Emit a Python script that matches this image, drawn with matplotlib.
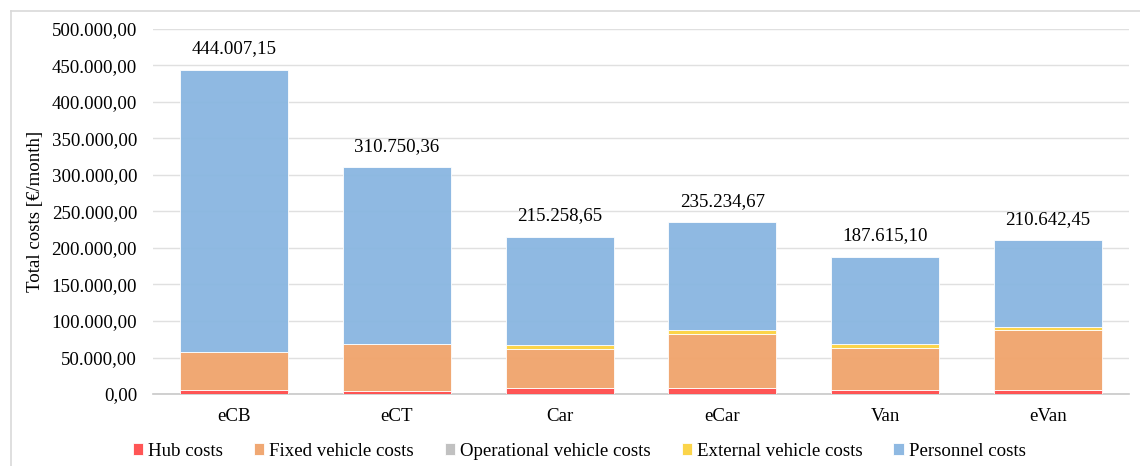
import matplotlib
matplotlib.use("Agg")
import matplotlib.pyplot as plt
from matplotlib.ticker import FuncFormatter
from matplotlib.lines import Line2D
import numpy as np

# Monthly cost breakdown per vehicle concept (EUR/month)
categories = ["eCB", "eCT", "Car", "eCar", "Van", "eVan"]
totals = [444007.15, 310750.36, 215258.65, 235234.67, 187615.10, 210642.45]
hub_costs = [6000, 4500, 8000, 8000, 5500, 5500]
fixed_vehicle_costs = [51500, 64000, 53000, 74000, 58000, 82000]
operational_vehicle_costs = [0, 0, 0, 0, 0, 0]
external_vehicle_costs = [0, 0, 5500, 5500, 4500, 3700]
personnel_costs = [t - h - f - o - e for t, h, f, o, e in zip(
    totals, hub_costs, fixed_vehicle_costs, operational_vehicle_costs, external_vehicle_costs)]

series = [
    ("Hub costs", hub_costs, "#FF4F4F"),
    ("Fixed vehicle costs", fixed_vehicle_costs, "#F0A56E"),
    ("Operational vehicle costs", operational_vehicle_costs, "#BFBFBF"),
    ("External vehicle costs", external_vehicle_costs, "#FBD344"),
    ("Personnel costs", personnel_costs, "#8BB7E1"),
]

FS = 13.6
plt.rcParams["font.family"] = ["Liberation Serif", "DejaVu Serif"]

fig = plt.figure(figsize=(11.4, 4.66), dpi=100)
ax = fig.add_axes([0.1342, 0.1545, 0.8562, 0.7833])

# light frame around the chart area (top and left edges visible)
fig.add_artist(Line2D([0.0097, 1.0], [0.976, 0.976], transform=fig.transFigure,
                      color="#D9D9D9", lw=1.2))
fig.add_artist(Line2D([0.0097, 0.0097], [0.0, 0.976], transform=fig.transFigure,
                      color="#D9D9D9", lw=1.2))

x = np.arange(len(categories))
width = 0.664
bottom = np.zeros(len(categories))
handles = []
for name, vals, color in series:
    vals = np.asarray(vals, dtype=float)
    b = ax.bar(x, vals, width, bottom=bottom, color=color, edgecolor="#FFFFFF",
               linewidth=0.6, alpha=0.97, label=name, zorder=3)
    bottom += vals
    handles.append(b)


def de_format(v):
    return f"{v:,.2f}".replace(",", "X").replace(".", ",").replace("X", ".")


for xi, t in zip(x, totals):
    ax.annotate(de_format(t), (xi, t), xytext=(0, 9), textcoords="offset points",
                ha="center", va="bottom", fontsize=FS, color="#000000")

ax.set_ylim(0, 500000)
ax.set_xlim(-0.5, len(categories) - 0.5)
ax.set_yticks(np.arange(0, 500001, 50000))
ax.yaxis.set_major_formatter(FuncFormatter(lambda v, pos: de_format(v)))
ax.set_xticks(x)
ax.set_xticklabels(categories)
ax.tick_params(axis="both", length=0, labelsize=FS, colors="#000000")
ax.tick_params(axis="y", pad=11.5)
ax.tick_params(axis="x", pad=10)
ax.grid(axis="y", color="#E0E0E0", linewidth=1.0, zorder=0)
for side in ["top", "right", "left"]:
    ax.spines[side].set_visible(False)
ax.spines["bottom"].set_color("#C8C8C8")
ax.spines["bottom"].set_linewidth(1.2)

ax.set_ylabel("Total costs [€/month]", fontsize=FS)
ax.yaxis.set_label_coords(-0.112, 0.5)

fig.legend(handles=handles, labels=[s[0] for s in series], loc="center",
           bbox_to_anchor=(0.508, 0.032), ncol=5, frameon=False, fontsize=FS,
           handlelength=0.55, handleheight=0.55, handletextpad=0.26,
           columnspacing=1.64)

fig.savefig("out.png", dpi=100)
